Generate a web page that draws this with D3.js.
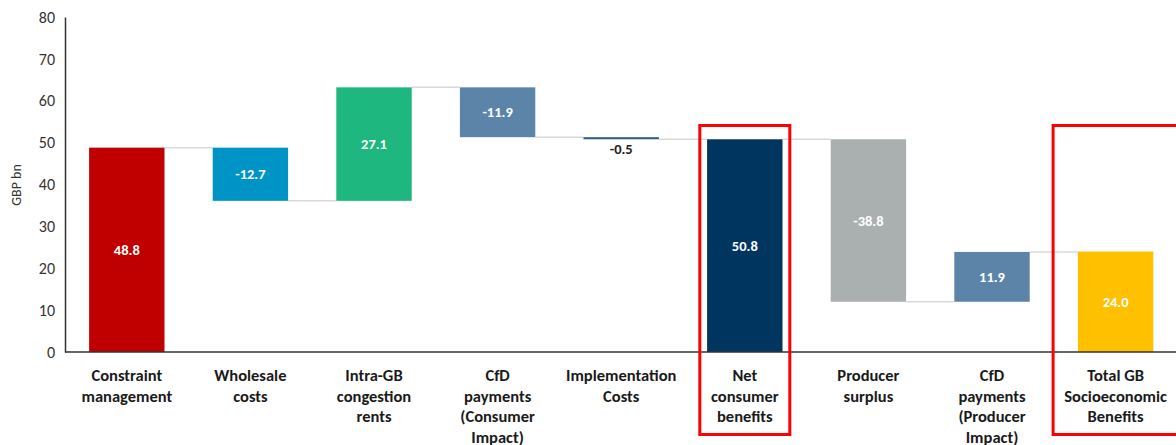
<!DOCTYPE html>
<html><head><meta charset="utf-8">
<script src="https://cdn.jsdelivr.net/npm/d3@7"></script>
<style>
html,body{margin:0;padding:0;background:#fff;}
svg{display:block;font-family:Carlito,Lato,"Liberation Sans",sans-serif;}
</style></head>
<body><svg id="c" width="1176" height="445"></svg>
<script>
const categories = ["Constraint\nmanagement","Wholesale\ncosts","Intra-GB\ncongestion\nrents","CfD\npayments\n(Consumer\nImpact)","Implementation\nCosts","Net\nconsumer\nbenefits","Producer\nsurplus","CfD\npayments\n(Producer\nImpact)","Total GB\nSocioeconomic\nBenefits"];
const values = [48.8, -12.7, 27.1, -11.9, -0.5, 50.8, -38.8, 11.9, 24.0];
const isTotal = [false, false, false, false, false, true, false, false, true];
const highlighted = [false, false, false, false, false, true, false, false, true];
const yTicks = [0,10,20,30,40,50,60,70,80];
const colors = ["#C00000","#0093C6","#1DB77F","#5B84A8","#2F5D8C","#003560","#AAAFAF","#5B84A8","#FFC000"];

const svg = d3.select("#c");
const x = d3.scaleBand().domain(d3.range(categories.length)).range([65, 1177.4]).paddingInner(0.39).paddingOuter(0.195);
const y = d3.scaleLinear().domain([0,80]).range([352,17]);

let run = 0;
const bars = values.map((v,i)=>{
  let start, end;
  if (isTotal[i]) { start = 0; end = v; run = v; }
  else { start = run; end = run + v; run = end; }
  return {i, v, start, end};
});

const conn = svg.append("g");
bars.forEach((b,i)=>{
  if (i === bars.length-1) return;
  const lvl = b.end;
  conn.append("line")
    .attr("x1", x(i)+x.bandwidth()).attr("x2", x(i+1))
    .attr("y1", y(lvl)).attr("y2", y(lvl))
    .attr("stroke","#d9d9d9").attr("stroke-width",1.5);
});

svg.append("g").selectAll("rect").data(bars).join("rect")
  .attr("x", d=>x(d.i)).attr("width", x.bandwidth())
  .attr("y", d=>y(Math.max(d.start,d.end)))
  .attr("height", d=>Math.max(1.5, Math.abs(y(d.start)-y(d.end))))
  .attr("fill", d=>colors[d.i]);

svg.append("g").selectAll("text").data(bars).join("text")
  .attr("x", d=>x(d.i)+x.bandwidth()/2)
  .attr("y", d=>{
    const h = Math.abs(y(d.start)-y(d.end));
    if (h < 14) return y(Math.min(d.start,d.end)) + 15;
    return (y(d.start)+y(d.end))/2 + 5;
  })
  .attr("text-anchor","middle")
  .attr("font-size","14.5px").attr("font-weight","bold")
  .attr("fill", d=> Math.abs(y(d.start)-y(d.end)) < 14 ? "#222" : "#fff")
  .text(d=>d.v.toFixed(1));

const yAxis = svg.append("g").attr("transform","translate(65,0)")
  .call(d3.axisLeft(y).tickValues(yTicks).tickSize(0).tickPadding(10));
yAxis.select(".domain").attr("stroke","#333").attr("stroke-width",1.5);
yAxis.selectAll("text").attr("font-size","16px").attr("fill","#333").attr("font-family","Carlito,Lato,sans-serif");

svg.append("line").attr("x1",65).attr("x2",1176).attr("y1",y(0)).attr("y2",y(0))
  .attr("stroke","#333").attr("stroke-width",1.5);

svg.append("text").attr("transform","translate(21,185) rotate(-90)")
  .attr("text-anchor","middle").attr("font-size","14px").attr("fill","#333").text("GBP bn");

const cl = svg.append("g");
categories.forEach((c,i)=>{
  const t = cl.append("text").attr("x", x(i)+x.bandwidth()/2).attr("y", 381)
    .attr("text-anchor","middle").attr("font-size","16.5px").attr("font-weight","bold").attr("fill","#1a1a1a");
  c.split("\n").forEach((ln,k)=>{
    t.append("tspan").attr("x", x(i)+x.bandwidth()/2).attr("dy", k===0?0:20.5).text(ln);
  });
});

highlighted.forEach((h,i)=>{
  if (!h) return;
  const cx = x(i)+x.bandwidth()/2;
  const left = i === categories.length-1 ? cx-62.5 : cx-45;
  const right = i === categories.length-1 ? cx+70 : cx+45;
  svg.append("rect").attr("x",left).attr("y",125.5).attr("width",right-left).attr("height",309)
    .attr("fill","none").attr("stroke","#FF0000").attr("stroke-width",3);
});
</script></body></html>
